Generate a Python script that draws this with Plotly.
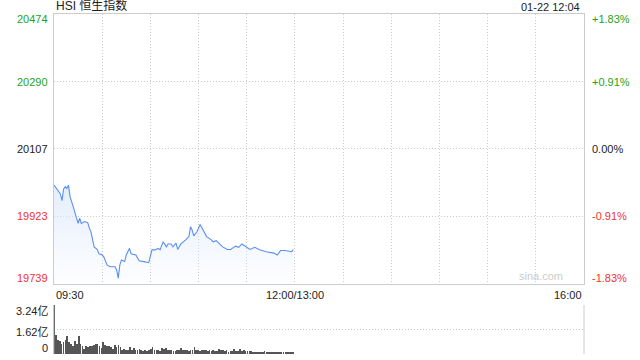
import plotly.graph_objects as go

# ---------------- data ----------------
times = ["09:30","09:33","09:34","09:35","09:36","09:37","09:38","09:39","09:40","09:42",
         "09:44","09:45","09:46","09:47","09:49","09:51","09:52","09:53","09:55","09:57",
         "09:58","10:00","10:01","10:03","10:05","10:08","10:09","10:10","10:11","10:12",
         "10:14","10:15","10:17","10:18","10:21","10:23","10:26","10:29","10:31","10:33",
         "10:35","10:36","10:38","10:40","10:41","10:43","10:44","10:46","10:47","10:49",
         "10:52","10:54","10:55","10:56","10:57","10:59","11:01","11:03","11:05","11:08",
         "11:09","11:11","11:13","11:15","11:18","11:20","11:23","11:25","11:27","11:30",
         "11:32","11:35","11:38","11:42","11:47","11:49","11:51","11:54","11:58","11:59"]
prices = [20008,19990,19984,19966,19998,20004,19999,20008,19977,19949,
          19922,19904,19918,19904,19909,19906,19891,19881,19840,19833,
          19821,19818,19813,19791,19786,19786,19777,19755,19791,19804,
          19800,19818,19836,19821,19818,19802,19800,19797,19832,19832,
          19836,19832,19854,19840,19848,19848,19840,19850,19833,19848,
          19859,19868,19895,19886,19870,19881,19901,19883,19868,19859,
          19854,19857,19848,19840,19833,19833,19842,19839,19848,19839,
          19833,19839,19832,19827,19823,19818,19830,19830,19827,19833]

volumes = [3.40,1.23,0.95,0.84,0.66,0.79,0.90,1.21,0.77,0.68,0.55,0.84,0.66,1.17,0.68,0.51,0.33,0.51,0.46,0.51,
           0.51,0.57,0.68,0.68,0.51,0.40,0.77,0.62,0.51,0.51,0.46,0.35,0.62,0.46,0.62,0.44,0.29,0.33,0.29,0.29,
           0.46,
           0.29,0.40,0.24,0.29,0.33,0.24,0.22,0.24,0.22,0.29,0.33,0.46,0.29,0.24,0.29,0.22,0.40,0.33,0.40,0.24,
           0.29,0.24,0.18,0.22,0.29,0.24,0.40,0.29,0.24,0.24,0.22,0.29,0.29,0.44,0.24,0.29,0.22,0.24,0.29,0.24,
           0.22,0.24,0.18,
           0.24,0.18,0.22,0.35,0.24,0.24,0.18,0.24,0.13,0.18,0.22,0.33,0.22,0.18,0.33,0.18,0.24,0.18,0.22,0.18,
           0.18,0.13,0.13,0.11,0.13,0.15,0.11,0.18,0.13,0.11,0.15,0.13,0.11,0.13,0.15,0.11,0.13,0.11,0.13,0.11,
           0.13,0.11,0.11]

price_ticks = [20474, 20290, 20107, 19923, 19739]
pct_labels = ["+1.83%", "+0.91%", "0.00%", "-0.91%", "-1.83%"]
vol_ticks = [3.24, 1.62, 0]
vol_labels = ["3.24亿", "1.62亿", "0"]
x_labels = ["09:30", "12:00/13:00", "16:00"]
title = "HSI 恒生指数"
stamp = "01-22 12:04"
watermark = "sina.com"

# ---------------- helpers ----------------
def minute_index(t):
    h, m = map(int, t.split(":"))
    mins = h * 60 + m
    if mins <= 12 * 60:
        return mins - (9 * 60 + 30)
    return 150 + mins - 13 * 60

px_ = [minute_index(t) for t in times]
vol_x = [i * 150 / len(volumes) for i in range(len(volumes))]

GREEN = "#1ea21e"
RED = "#f03232"
BLACK = "#222222"
LINE = "#5b8ff0"
GRID = "#cccccc"
DOT = "1px,2px"
FONT = "Liberation Sans, Arial, Noto Sans CJK SC, sans-serif"

fig = go.Figure()
fig.add_trace(go.Scatter(
    x=px_, y=prices, mode="lines", line=dict(color=LINE, width=1.1),
    fill="tozeroy",
    fillgradient=dict(type="vertical", start=19739, stop=20010,
                      colorscale=[[0, "rgba(220,232,252,0.05)"], [1, "rgba(220,232,252,0.75)"]]),
    xaxis="x", yaxis="y", hoverinfo="skip", showlegend=False))
fig.add_trace(go.Bar(
    x=vol_x, y=volumes, width=0.45, marker=dict(color="#555555", line=dict(width=0)),
    xaxis="x2", yaxis="y2", hoverinfo="skip", showlegend=False))

xticks = list(range(0, 331, 30))
fig.update_layout(
    width=640, height=360,
    margin=dict(l=54, r=56, t=14, b=6),
    paper_bgcolor="white", plot_bgcolor="white",
    font=dict(family=FONT, size=11, color=BLACK),
    bargap=0,
    xaxis=dict(domain=[0, 1], range=[0, 330], tickvals=xticks, showticklabels=False,
               showgrid=True, gridcolor=GRID, griddash=DOT, gridwidth=1,
               showline=True, linecolor="#cccccc", linewidth=1, mirror=True,
               zeroline=False, ticks="", anchor="y"),
    yaxis=dict(domain=[0.2059, 1], range=[19739, 20474], tickvals=price_ticks,
               showticklabels=False, showgrid=True, gridcolor=GRID, griddash=DOT,
               showline=True, linecolor="#cccccc", linewidth=1, mirror=True,
               zeroline=False, ticks="", anchor="x"),
    xaxis2=dict(domain=[0, 1], range=[0, 330], showticklabels=False, showgrid=False,
                showline=False, zeroline=False, ticks="", anchor="y2"),
    yaxis2=dict(domain=[0, 0.1441], range=[0, 3.24], tickvals=vol_ticks,
                showticklabels=False, showgrid=True, gridcolor="#c8c8c8", griddash=DOT,
                gridwidth=1, showline=False, zeroline=False, ticks="", anchor="x2"),
)

# borders for volume panel (left and right solid)
for xv, col in [(0, "#888888"), (1, "#cccccc")]:
    fig.add_shape(type="line", xref="x2 domain", yref="y2 domain",
                  x0=xv, x1=xv, y0=0, y1=1, line=dict(color=col, width=1))

anns = []
colors = [GREEN, GREEN, BLACK, RED, RED]
shifts = [-5, 0, 0, 0, 6]
for v, lab, pct, c, s in zip(price_ticks, [str(p) for p in price_ticks], pct_labels, colors, shifts):
    anns.append(dict(x=0, xref="paper", xanchor="right", xshift=-4, y=v, yref="y",
                     yanchor="middle", yshift=s, text=lab, showarrow=False,
                     font=dict(color=c, size=11)))
    anns.append(dict(x=1, xref="paper", xanchor="left", xshift=6, y=v, yref="y",
                     yanchor="middle", yshift=s, text=pct, showarrow=False,
                     font=dict(color=c, size=11)))
vshifts = [-6, -2, 6]
for v, lab, s in zip(vol_ticks, vol_labels, vshifts):
    anns.append(dict(x=0, xref="paper", xanchor="right", xshift=-4, y=v, yref="y2",
                     yanchor="middle", yshift=s, text=lab, showarrow=False,
                     font=dict(color=BLACK, size=11)))
for xv, lab, anc in zip([0, 150, 330], x_labels, ["left", "center", "right"]):
    anns.append(dict(x=xv, xref="x", xanchor=anc, y=19739, yref="y", yanchor="top",
                     yshift=-3, text=lab, showarrow=False, font=dict(color=BLACK, size=11)))
anns.append(dict(x=0, xref="paper", xanchor="left", y=1, yref="paper", yanchor="bottom",
                 yshift=-1, text=title, showarrow=False, font=dict(color=BLACK, size=12)))
anns.append(dict(x=1, xref="paper", xanchor="right", xshift=-2, y=1, yref="paper",
                 yanchor="bottom", yshift=-1, text=stamp, showarrow=False,
                 font=dict(color=BLACK, size=11)))
anns.append(dict(x=318, xref="x", xanchor="right", y=19739, yref="y", yanchor="bottom",
                 yshift=0, text=watermark, showarrow=False,
                 font=dict(color="#cccccc", size=11)))
fig.update_layout(annotations=anns)

fig.write_html("out.html")
